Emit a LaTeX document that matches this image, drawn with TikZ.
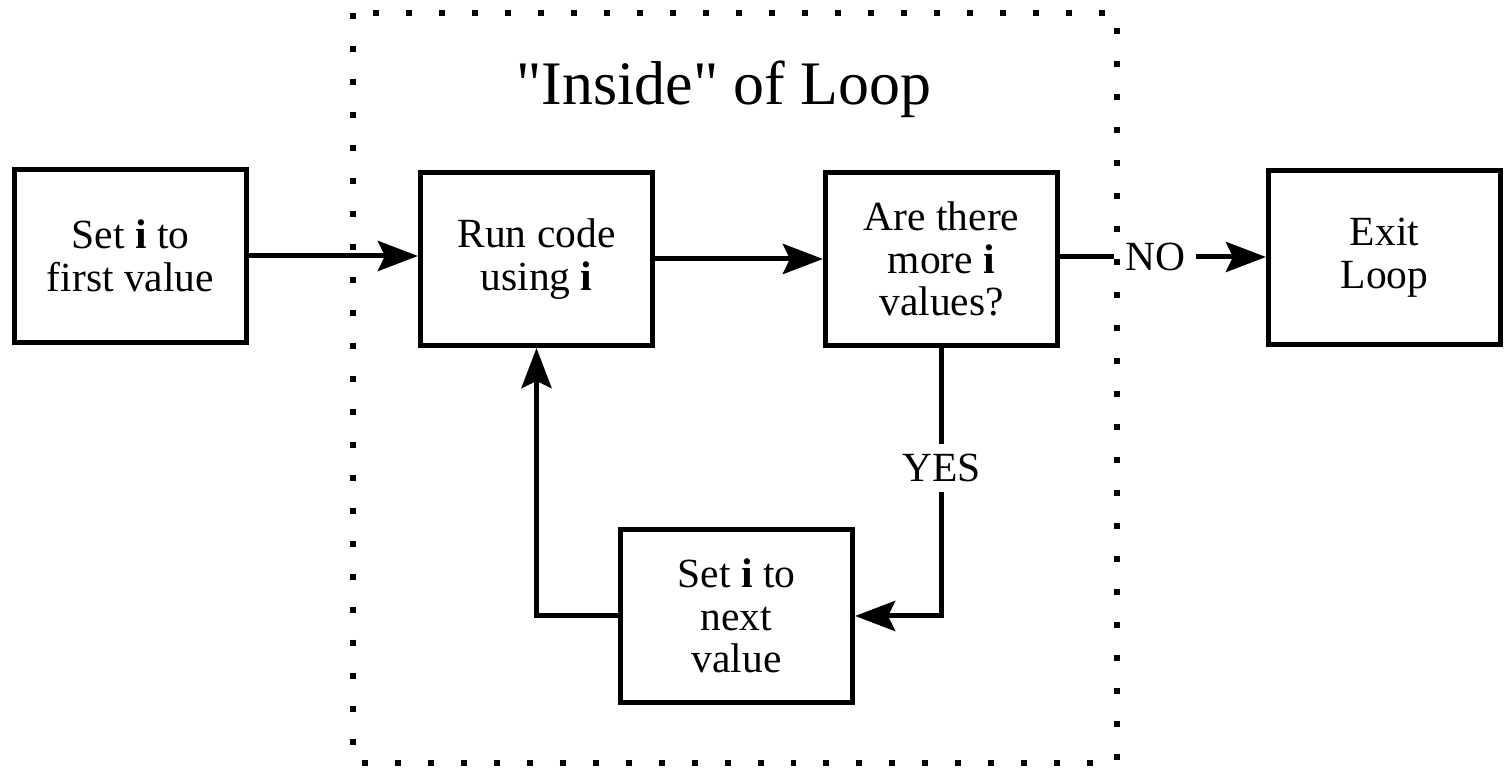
\documentclass[tikz,border=0pt]{standalone}
\usepackage{fontspec}
\setmainfont{Liberation Serif}
% same family without the TeX ligature mapping, so " stays a straight quote
\newfontfamily\plainserif{Liberation Serif}
\usetikzlibrary{arrows.meta}
\begin{document}
\begin{tikzpicture}[x=0.01cm,y=-0.01cm,
  stepbox/.style={draw, line width=1.42pt, minimum width=2.32cm, minimum height=1.73cm,
    inner sep=0pt, align=center, font=\fontsize{11.8}{12.1}\selectfont},
  flow/.style={line width=1.42pt, -{Stealth[length=0.4cm,width=0.3cm,inset=0.07cm]}},
  plainline/.style={line width=1.42pt},
  lbl/.style={inner sep=0.1cm, font=\fontsize{11.8}{12}\selectfont},
  loopframe/.style={line width=1.7pt, dash pattern=on 1.7pt off 7.68pt}]
\useasboundingbox (0,0) rectangle (1504,768);

% dotted frame around the body of the loop
\draw[loopframe] (353,13) rectangle (1117,763);
\node[anchor=base, font=\plainserif\fontsize{17.6}{20}\selectfont] (title) at (724,105) {"Inside" of Loop};

% steps
\node[stepbox] (A) at (130.5,256)    {Set \textbf{i} to\\first value};
\node[stepbox] (B) at (536.5,259)    {Run code\\using \textbf{i}};
\node[stepbox] (C) at (941.5,259)    {Are there\\more \textbf{i}\\values?};
\node[stepbox] (D) at (1384.5,257.5) {Exit\\Loop};
\node[stepbox] (E) at (736.5,616)    {Set \textbf{i} to\\next\\value};

% connectors
\draw[flow] (A.east) -- (A.east -| B.west);
\draw[flow] (B.east) -- (C.west);
\node[lbl] (no) at (1155,257) {NO};
\draw[plainline] (C.east |- no) -- (no.west);
\draw[flow] (no.east) -- (no.east -| D.west);
\draw[flow] (C.south) |- (E.east);
\node[lbl, fill=white] (yes) at (941.5,468) {YES};
\draw[flow] (E.west) -| (B.south);
\end{tikzpicture}
\end{document}
